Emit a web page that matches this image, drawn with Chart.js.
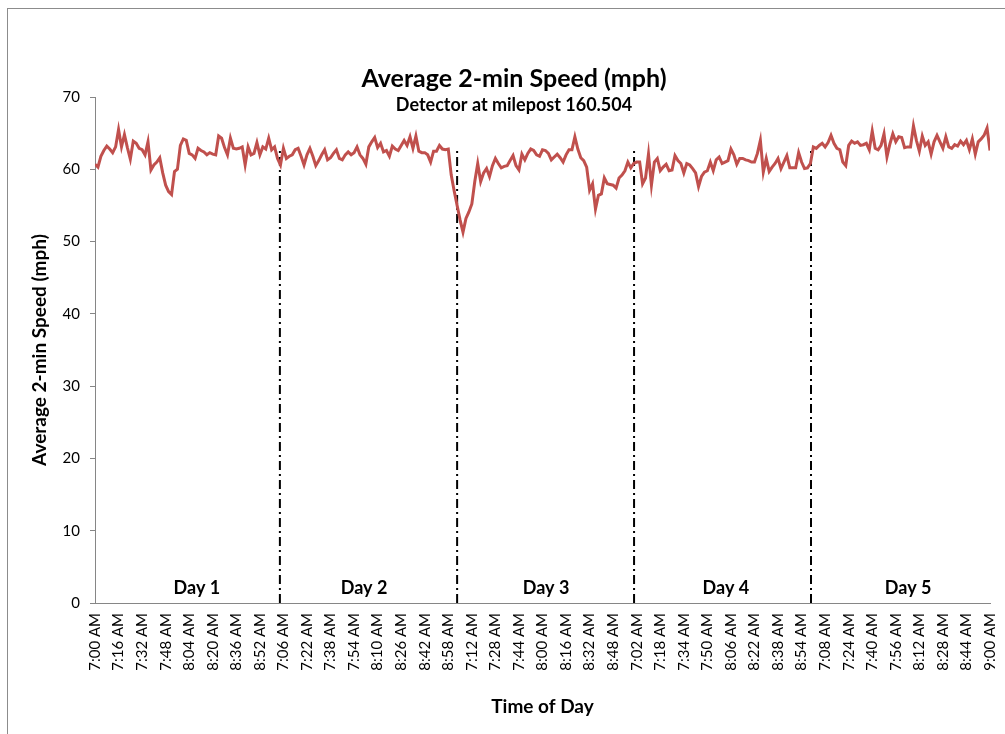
<!DOCTYPE html>
<html>
<head>
<meta charset="utf-8">
<title>Average 2-min Speed</title>
<script src="https://cdn.jsdelivr.net/npm/chart.js@4/dist/chart.umd.min.js"></script>
<style>
  html, body { margin: 0; padding: 0; background: #fff; overflow: hidden; }
  #wrap { position: relative; width: 1005px; height: 734px; }
  #frame { position: absolute; left: 7px; top: 8px; width: 1010px; height: 740px; border: 1px solid #8c8c8c; }
  #myChart { position: absolute; left: 0; top: 0; }
</style>
</head>
<body>
<div id="wrap">
  <div id="frame"></div>
  <canvas id="myChart" width="1005" height="734"></canvas>
</div>
<script>
// Speeds, one value every 2 minutes, 7:00 to 9:00 AM
const day1 = [60.7, 60.3, 61.8, 62.6, 63.2, 62.8, 62.3, 63.1, 65.5, 63.1,
    64.8, 63.0, 61.4, 63.9, 63.6, 62.9, 62.7, 62.0, 63.8, 59.9,
    60.6, 61.0, 61.6, 59.5, 57.8, 56.9, 56.5, 59.7, 60.0, 63.3,
    64.2, 64.0, 62.2, 62.0, 61.5, 62.9, 62.6, 62.4, 62.0, 62.3,
    62.1, 62.0, 64.6, 64.3, 63.0, 62.0, 64.3, 62.9, 62.8, 62.9,
    63.1, 60.6, 63.1, 62.0, 62.2, 63.7, 62.0, 63.1, 62.8, 64.3,
    62.7];
const day2 = [63.1, 61.5, 60.6, 62.9, 61.5, 61.8, 62.0, 62.7, 62.9, 61.8,
    60.6, 62.0, 62.9, 61.8, 60.5, 61.2, 62.0, 62.7, 61.3, 61.6,
    62.2, 62.7, 61.5, 61.3, 62.0, 62.4, 62.0, 62.3, 63.1, 62.0,
    61.5, 60.7, 63.1, 63.8, 64.4, 63.0, 63.6, 62.4, 62.6, 61.8,
    63.2, 62.8, 62.6, 63.3, 64.0, 63.3, 64.5, 62.9, 64.6, 62.5,
    62.3, 62.3, 62.0, 61.0, 62.5, 62.5, 63.3, 62.8, 62.7, 62.8,
    59.2];
const day3 = [57.0, 55.0, 53.0, 51.3, 53.2, 54.1, 55.2, 58.3, 60.8, 58.3,
    59.5, 60.1, 59.0, 60.5, 61.5, 60.8, 60.2, 60.4, 60.5, 61.2,
    61.9, 60.5, 59.9, 62.1, 61.3, 62.2, 62.8, 62.6, 62.0, 61.8,
    62.7, 62.6, 62.2, 61.3, 61.7, 62.1, 61.6, 61.0, 62.0, 62.7,
    62.7, 64.5, 62.8, 61.6, 61.2, 60.3, 57.1, 58.0, 54.5, 56.4,
    56.6, 58.8, 58.0, 57.9, 57.8, 57.4, 58.8, 59.2, 59.8, 61.0,
    60.2];
const day4 = [60.8, 61.0, 61.0, 58.0, 58.8, 62.1, 57.8, 61.0, 61.5, 59.8,
    60.3, 60.7, 59.8, 59.9, 61.9, 61.2, 60.8, 59.5, 60.8, 60.6,
    60.1, 59.5, 57.6, 59.0, 59.6, 59.8, 61.0, 59.8, 61.3, 61.7,
    60.8, 61.0, 61.2, 62.8, 62.0, 60.7, 61.5, 61.5, 61.3, 61.2,
    61.0, 61.0, 62.2, 64.0, 59.6, 61.5, 59.7, 60.3, 60.8, 61.5,
    60.1, 61.0, 61.9, 60.2, 60.2, 60.2, 62.3, 61.0, 60.1, 60.2,
    60.8];
const day5 = [63.1, 62.9, 63.3, 63.6, 63.1, 63.7, 64.7, 63.6, 62.9, 62.7,
    61.0, 60.5, 63.3, 63.9, 63.6, 63.8, 63.3, 63.4, 63.6, 62.7,
    65.3, 62.9, 62.7, 63.3, 64.9, 61.7, 63.5, 64.9, 63.8, 64.5,
    64.4, 63.0, 63.1, 63.1, 66.0, 64.0, 62.5, 64.6, 63.3, 63.8,
    62.1, 63.8, 64.7, 63.8, 62.9, 64.5, 63.1, 62.9, 63.4, 63.2,
    63.9, 63.4, 64.0, 62.7, 64.2, 62.1, 63.8, 64.2, 64.7, 65.7,
    62.6];

// x tick labels, one every 8th reading (16 minutes)
const tickLabels = ["7:00 AM", "7:16 AM", "7:32 AM", "7:48 AM", "8:04 AM", "8:20 AM", "8:36 AM", "8:52 AM",
    "7:06 AM", "7:22 AM", "7:38 AM", "7:54 AM", "8:10 AM", "8:26 AM", "8:42 AM", "8:58 AM",
    "7:12 AM", "7:28 AM", "7:44 AM", "8:00 AM", "8:16 AM", "8:32 AM", "8:48 AM",
    "7:02 AM", "7:18 AM", "7:34 AM", "7:50 AM", "8:06 AM", "8:22 AM", "8:38 AM", "8:54 AM",
    "7:08 AM", "7:24 AM", "7:40 AM", "7:56 AM", "8:12 AM", "8:28 AM", "8:44 AM", "9:00 AM"];

const dayNames = ["Day 1", "Day 2", "Day 3", "Day 4", "Day 5"];
// where the dash-dot separators sit (in reading index) and how high they go
const dayBoundaries = [62.8, 123.0, 183.1, 243.2];
const boundaryTop = 63;
const dayLabelPos = [34.6, 91.4, 153.2, 214.3, 276.2];

const titleText = "Average 2-min Speed (mph)";
const subtitleText = "Detector at milepost 160.504";

Chart.defaults.font.family = "Lato, 'Open Sans', sans-serif";
Chart.defaults.color = '#000';

const speeds = day1.concat(day2, day3, day4, day5);
const speedPoints = speeds.map((v, i) => ({ x: i, y: v }));

const datasets = [{
    label: 'Speed',
    data: speedPoints,
    borderColor: '#c0504d',
    borderWidth: 3,
    pointRadius: 0,
    tension: 0
}];
dayBoundaries.forEach(function (b) {
    datasets.push({
        label: 'boundary',
        data: [{ x: b, y: 0 }, { x: b, y: boundaryTop }],
        borderColor: '#000',
        borderWidth: 2,
        borderDash: [9, 4, 2, 4],
        pointRadius: 0
    });
});

// title, subtitle and the Day n labels
const textPlugin = {
    id: 'texts',
    afterDraw(chart) {
        const ctx = chart.ctx;
        const xs = chart.scales.x;
        const ys = chart.scales.y;
        ctx.save();
        ctx.fillStyle = '#000';
        ctx.textAlign = 'center';
        ctx.textBaseline = 'middle';
        ctx.font = "bold 25px Lato";
        ctx.fillText(titleText, 514, 79);
        ctx.font = "bold 18px Lato";
        ctx.fillText(subtitleText, 514, 105);
        ctx.font = "bold 18px Lato";
        dayNames.forEach(function (d, i) {
            ctx.fillText(d, xs.getPixelForValue(dayLabelPos[i]), ys.getPixelForValue(2.1));
        });
        ctx.restore();
    }
};

const ctx = document.getElementById('myChart').getContext('2d');
const myChart = new Chart(ctx, {
    type: 'line',
    data: { datasets: datasets },
    plugins: [textPlugin],
    options: {
        responsive: false,
        animation: false,
        layout: { padding: { left: 28, right: 15, top: 97, bottom: 16 } },
        plugins: {
            legend: { display: false },
            tooltip: { enabled: false }
        },
        scales: {
            x: {
                type: 'linear',
                min: 0,
                max: speeds.length - 1,
                afterFit: function (scale) {
                    scale.height = 115;
                    scale.paddingLeft = 0;
                    scale.paddingRight = 0;
                },
                grid: { display: false, drawTicks: false },
                border: { display: true, color: '#868686', width: 1 },
                ticks: {
                    stepSize: 8,
                    maxTicksLimit: 60,
                    autoSkip: false,
                    minRotation: 90,
                    maxRotation: 90,
                    padding: 10,
                    font: { size: 15 },
                    callback: function (value) { return tickLabels[Math.round(value / 8)]; }
                },
                title: {
                    display: true,
                    text: 'Time of Day',
                    font: { size: 19, weight: 'bold' },
                    padding: { top: 0, bottom: 0 }
                }
            },
            y: {
                min: 0,
                max: 70,
                afterFit: function (scale) { scale.width = 67; },
                grid: { drawOnChartArea: false, drawTicks: true, tickLength: 5, color: '#868686' },
                border: { display: true, color: '#868686', width: 1 },
                ticks: { stepSize: 10, padding: 10, font: { size: 15 } },
                title: {
                    display: true,
                    text: 'Average 2-min Speed (mph)',
                    font: { size: 19, weight: 'bold' },
                    padding: { top: 0, bottom: 0 }
                }
            }
        }
    }
});
</script>
</body>
</html>
